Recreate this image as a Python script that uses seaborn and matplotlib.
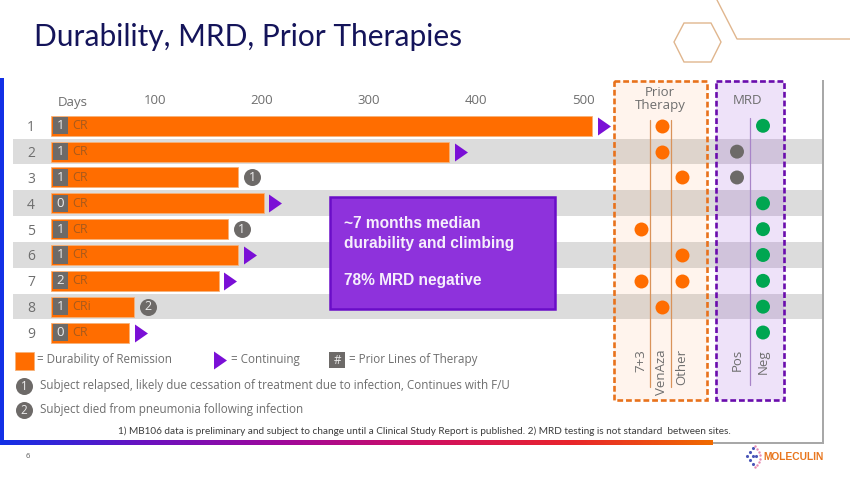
"""
Durability, MRD, Prior Therapies - slide recreation
"""

import numpy as np
import pandas as pd
import matplotlib
matplotlib.use('Agg')
import matplotlib.pyplot as plt
from matplotlib.colors import LinearSegmentedColormap
from matplotlib.patches import Rectangle, Polygon
from matplotlib.transforms import ScaledTranslation
import seaborn as sns

# ── Data ──────────────────────────────────────────────────────
patients = ['1', '2', '3', '4', '5', '6', '7', '8', '9']
days = [506, 372, 175, 199, 165, 175, 157, 78, 73]
prior_lines = [1, 1, 1, 0, 1, 1, 2, 1, 0]
response = ['CR', 'CR', 'CR', 'CR', 'CR', 'CR', 'CR', 'CRi', 'CR']
continuing = [1, 1, 0, 1, 0, 1, 1, 0, 1]
notes = [None, None, '1', None, '1', None, None, '2', None]
day_ticks = [100, 200, 300, 400, 500]

prior_cats = ['7+3', 'VenAza', 'Other']
prior_rows = [0, 1, 2, 4, 5, 6, 6, 7]
prior_vals = ['VenAza', 'VenAza', 'Other', '7+3', 'Other', '7+3', 'Other', 'VenAza']

mrd_cats = ['Pos', 'Neg']
mrd_rows = [0, 1, 2, 3, 4, 5, 6, 7, 8]
mrd_vals = ['Neg', 'Pos', 'Pos', 'Neg', 'Neg', 'Neg', 'Neg', 'Neg', 'Neg']

# ── Style ─────────────────────────────────────────────────────
W, H = 850, 478
ORANGE = '#FF6D00'
PURPLE = '#7A0FD6'
GRAY = '#6D6A68'
TXT = '#6E6E6E'
GREEN = '#00A651'
FONT = 'Open Sans'
ROW_H = 25.84
ROW0 = 125.8
PX = 1.07  # pixels per day

sns.set_style('white')
plt.rcParams['font.family'] = [FONT, 'DejaVu Sans']

fig = plt.figure(figsize=(8.5, 4.78), dpi=100, facecolor='white')


def px_axes(x0, y0, x1, y1, z):
    a = fig.add_axes([x0 / W, 1 - y1 / H, (x1 - x0) / W, (y1 - y0) / H], zorder=z)
    a.patch.set_alpha(0)
    return a


# ── Slide background (pixel coordinates) ──────────────────────
page = px_axes(0, 0, W, H, 0)
page.set_xlim(0, W)
page.set_ylim(H, 0)
page.axis('off')

page.add_patch(Rectangle((7, 80), 817, 364, fc='#A8A8A8', ec='none', zorder=1))
page.add_patch(Rectangle((4, 78), 818, 363.5, fc='white', ec='none', zorder=1.5))
page.add_patch(Rectangle((0, 78), 4, 366, fc='#1230E6', ec='none', zorder=3))
grad = LinearSegmentedColormap.from_list(
    'bar', ['#1230E6', '#6A12C0', '#A0089A', '#D01060', '#E8242C', '#F06A00'])
page.imshow(np.linspace(0, 1, 256).reshape(1, -1), cmap=grad, aspect='auto',
            extent=(0, 713, 445.5, 441), zorder=3)
page.set_xlim(0, W)
page.set_ylim(H, 0)

for i in range(1, 9, 2):
    page.add_patch(Rectangle((13, ROW0 + i * ROW_H - ROW_H / 2), 809, ROW_H - 0.4,
                             fc='#DCDCDC', ec='none', zorder=2))

# side panels
page.add_patch(Rectangle((614, 81), 93, 319, fc='#FF6D00', alpha=0.07, ec='none', zorder=4))
page.add_patch(Rectangle((614, 81), 93, 319, fc='none', ec='#E8721C', lw=1.9,
                         ls=(0, (2.2, 1.1)), zorder=5))
page.add_patch(Rectangle((716, 81), 68, 319, fc='#7A12D4', alpha=0.12, ec='none', zorder=4))
page.add_patch(Rectangle((716, 81), 68, 319, fc='none', ec='#6A0DAD', lw=1.9,
                         ls=(0, (2.2, 1.1)), zorder=5))
page.plot([650.5, 650.5], [120, 387], color='#D9935A', lw=0.9, zorder=5)
page.plot([671.5, 671.5], [120, 387], color='#D9935A', lw=0.9, zorder=5)
page.plot([750, 750], [118, 385], color='#A884C8', lw=0.9, zorder=5)

page.text(660, 99, 'Prior\nTherapy', color=TXT, fontsize=9.5, ha='center', va='center',
          linespacing=0.95, zorder=6)
page.text(748, 100, 'MRD', color=TXT, fontsize=9.5, ha='center', va='center', zorder=6)
page.text(73, 102, 'Days', color=TXT, fontsize=9.5, ha='center', va='center', zorder=6)

# title and corner decoration
page.text(34, 37, 'Durability, MRD, Prior Therapies', color='#14145A', fontsize=21.5,
          family='Lato', ha='left', va='center')
page.add_patch(Polygon([(684, 23), (711, 23), (721, 42), (711, 62), (684, 62), (674, 42)],
                       closed=True, fc='none', ec='#E0B68E', lw=1))
page.plot([717, 737, 850], [0, 39, 39], color='#E0B68E', lw=1)

# callout
page.add_patch(Rectangle((330.5, 196.5), 225, 112, fc='#8E32DC', ec='#6A0DC8', lw=1.8, zorder=6))
for txt, y in [('~7 months median', 223), ('durability and climbing', 243),
               ('78% MRD negative', 281)]:
    page.text(344, y, txt, color='#F6EEFC', fontsize=11.2, fontweight='bold',
              family='Liberation Sans', ha='left', va='center', zorder=7)

# legend rows
page.add_patch(Rectangle((15, 352), 19, 18, fc=ORANGE, ec='#F6B27A', lw=0.6, zorder=5))
page.text(37, 360, '= Durability of Remission', color=TXT, fontsize=8.4, va='center')
TRI = [(-0.36, -0.5), (-0.36, 0.5), (0.36, 0)]
page.scatter([220], [360], marker=TRI, s=168, color=PURPLE, linewidth=0, zorder=5)
page.text(231, 360, '= Continuing', color=TXT, fontsize=8.4, va='center')
page.add_patch(Rectangle((329, 352), 16, 16, fc=GRAY, ec='none', zorder=5))
page.text(337, 360, '#', color='#EDEDED', fontsize=8.4, ha='center', va='center', zorder=6)
page.text(349, 360, '= Prior Lines of Therapy', color=TXT, fontsize=8.4, va='center')

page.scatter([24, 24], [386, 410], s=150, color=GRAY, linewidth=0, zorder=5)
page.text(24, 386, '1', color='#EDEDED', fontsize=8.4, ha='center', va='center', zorder=6)
page.text(24, 410, '2', color='#EDEDED', fontsize=8.4, ha='center', va='center', zorder=6)
page.text(40, 385, 'Subject relapsed, likely due cessation of treatment due to infection, '
          'Continues with F/U', color=TXT, fontsize=8.4, va='center')
page.text(40, 410, 'Subject died from pneumonia following infection', color=TXT,
          fontsize=8.4, va='center')
page.text(424.5, 431, '1) MB106 data is preliminary and subject to change until a Clinical '
          'Study Report is published. 2) MRD testing is not standard  between sites.',
          color='#3C3C3C', fontsize=7.2, family='Lato', ha='center', va='center', zorder=6)
page.text(28, 456, '6', color='#555555', fontsize=5.5, ha='center', va='center')

# logo
page.text(763, 457, 'MOLECULIN', color='#E8761E', fontsize=7.4, fontweight='bold',
          family='Liberation Sans', ha='left', va='center')
page.scatter([747, 750, 750, 753, 753, 753, 756], [456, 452, 460, 448, 456, 464, 456],
             s=5, color='#4A56B8', linewidth=0)
page.scatter([757, 759, 760, 760, 759, 757, 755, 755], [449, 452, 455, 459, 462, 465, 467, 446],
             s=3, color='#E88AB0', linewidth=0)

# ── Durability bars ───────────────────────────────────────────
df = pd.DataFrame({'patient': patients, 'days': days})
y_top, y_bot = ROW0 - ROW_H / 2, ROW0 + 8.5 * ROW_H
ax = px_axes(51, y_top, 612, y_bot, 1)
sns.barplot(data=df, x='days', y='patient', orient='h', order=patients, ax=ax,
            color=ORANGE, saturation=1, width=0.774, edgecolor='#F6B27A', linewidth=0.6)
ax.set_xlim(0, 561 / PX)
ax.set_ylim(8.5, -0.5)
ax.set_xlabel('')
ax.set_ylabel('')
ax.xaxis.tick_top()
ax.set_xticks(day_ticks)
ax.tick_params(axis='x', length=0, pad=4.2, labelsize=9.5, labelcolor=TXT)
ax.tick_params(axis='y', length=0, pad=11.5, labelsize=10, labelcolor=TXT)
for lab in ax.get_xticklabels():
    lab.set_transform(lab.get_transform() + ScaledTranslation(-0.03, 0, fig.dpi_scale_trans))
sns.despine(ax=ax, left=True, bottom=True, top=True, right=True)

for i in range(len(patients)):
    ax.add_patch(Rectangle((2 / PX, i - 0.33), 15 / PX, 0.66, fc=GRAY, ec='none', zorder=4))
    ax.text(9.5 / PX, i, str(prior_lines[i]), color='#EDEDED', fontsize=9.5,
            ha='center', va='center', zorder=5)
    ax.text(21 / PX, i, response[i], color='#A85A1C', fontsize=9,
            ha='left', va='center', zorder=5)

cont = df[[c == 1 for c in continuing]].copy()
cont['x'] = cont['days'] + 11.5 / PX
sns.scatterplot(data=cont, x='x', y='patient', marker=TRI, s=168, color=PURPLE,
                linewidth=0, ax=ax, legend=False, clip_on=False)
ax.set_xlabel('')
ax.set_ylabel('')

note_rows = [i for i, n in enumerate(notes) if n]
note_x = [days[i] + 14 / PX for i in note_rows]
sns.scatterplot(x=note_x, y=[patients[i] for i in note_rows], s=150, color=GRAY,
                linewidth=0, ax=ax, legend=False)
for i, x in zip(note_rows, note_x):
    ax.text(x, i, notes[i], color='#EDEDED', fontsize=9, ha='center', va='center', zorder=5)
ax.set_xlim(0, 561 / PX)
ax.set_ylim(8.5, -0.5)

# ── Prior therapy dots ────────────────────────────────────────
ax_p = px_axes(620, y_top, 702, y_bot, 2)
sns.scatterplot(x=[prior_cats.index(v) for v in prior_vals], y=prior_rows, s=101,
                color=ORANGE, linewidth=0, ax=ax_p, legend=False)
ax_p.set_xlim((620 - 641) / 20.5, (702 - 641) / 20.5)

# ── MRD dots ──────────────────────────────────────────────────
ax_m = px_axes(722, y_top, 778, y_bot, 2)
sns.scatterplot(x=[mrd_cats.index(v) for v in mrd_vals], y=mrd_rows, hue=mrd_vals,
                palette={'Pos': GRAY, 'Neg': GREEN}, s=101, linewidth=0, ax=ax_m, legend=False)
ax_m.set_xlim((722 - 737) / 26, (778 - 737) / 26)

for a, cats in [(ax_p, prior_cats), (ax_m, mrd_cats)]:
    a.set_ylim(8.5, -0.5)
    a.set_yticks([])
    a.set_xticks(range(len(cats)))
    a.set_xticklabels(cats, rotation=90, ha='center', va='top')
    a.tick_params(axis='x', length=0, pad=2.5, labelsize=9.5, labelcolor=TXT)
    a.set_xlabel('')
    a.set_ylabel('')
    sns.despine(ax=a, left=True, bottom=True, top=True, right=True)

fig.savefig('out.png', dpi=100, facecolor='white')
